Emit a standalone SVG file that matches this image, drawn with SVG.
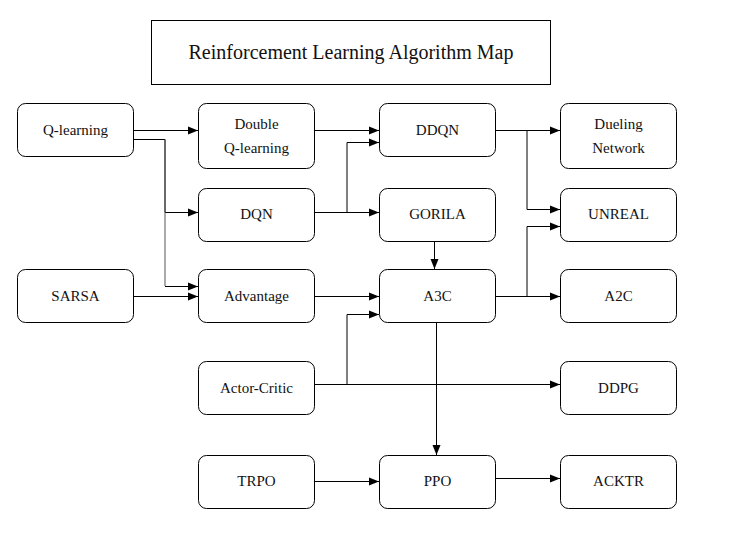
<svg xmlns="http://www.w3.org/2000/svg" width="740" height="549" viewBox="0 0 740 549">
<defs>
<marker id="arr" viewBox="0 0 10 10" refX="10" refY="5" markerWidth="10" markerHeight="10" markerUnits="userSpaceOnUse" orient="auto">
<path d="M0,1 L10,5 L0,9 Z" fill="#000"/>
</marker>
<style>
.n rect{fill:#fff;stroke:#000;stroke-width:1}
.n text{font-family:"Liberation Serif","DejaVu Serif",serif;font-size:15px;fill:#111;text-anchor:middle;dominant-baseline:central}
.t text{font-family:"Liberation Serif","DejaVu Serif",serif;font-size:20px;fill:#111;text-anchor:middle;dominant-baseline:central}
.t rect{fill:#fff;stroke:#000;stroke-width:1}
#edges path{fill:none;stroke:#000;stroke-width:1}
#edges path.a{marker-end:url(#arr)}
#edges path.g{stroke:#555}
</style>
</defs>
<rect width="740" height="549" fill="#fff"/>
<g class="t" id="title"><rect x="151.5" y="20.5" width="399" height="64"/><text x="351" y="52">Reinforcement Learning Algorithm Map</text></g>

<g id="edges">
<path class="a" d="M133,130.5 H198"/>
<path class="a" d="M133,139.5 H165 V212.5 H198"/>
<path class="g" d="M165,139.5 V286"/>
<path class="a" d="M165,286.5 H198"/>
<path class="a" d="M133,296.5 H198"/>
<path class="a" d="M315,130.5 H379"/>
<path class="a" d="M315,212.5 H379"/>
<path class="a" d="M347,212.5 V142.5 H379"/>
<path class="a" d="M495,130.5 H560"/>
<path class="a" d="M527,130.5 V209.5 H560"/>
<path class="a" d="M495,296.5 H560"/>
<path class="a" d="M527,296.5 V226.5 H560"/>
<path class="a" d="M434.5,241 V269"/>
<path class="a" d="M315,296.5 H379"/>
<path class="a" d="M315,384.5 H560"/>
<path class="a" d="M347,384.5 V314.5 H379"/>
<path class="a" d="M436.5,322 V455"/>
<path class="a" d="M314,481.5 H379"/>
<path class="a" d="M495,478.5 H560"/>
</g>

<g class="n" id="q-learning"><rect x="17.5" y="103.5" width="116" height="53" rx="8"/><text x="75.5" y="130">Q-learning</text></g>
<g class="n" id="double-q"><rect x="198.5" y="103.5" width="116" height="65" rx="8"/><text x="256.5" y="124">Double</text><text x="256.5" y="148">Q-learning</text></g>
<g class="n" id="ddqn"><rect x="379.5" y="103.5" width="116" height="53" rx="8"/><text x="437.5" y="130">DDQN</text></g>
<g class="n" id="dueling"><rect x="560.5" y="103.5" width="116" height="65" rx="8"/><text x="618.5" y="124">Dueling</text><text x="618.5" y="148">Network</text></g>
<g class="n" id="dqn"><rect x="198.5" y="188.5" width="116" height="53" rx="8"/><text x="256.5" y="214">DQN</text></g>
<g class="n" id="gorila"><rect x="379.5" y="188.5" width="116" height="53" rx="8"/><text x="437.5" y="214">GORILA</text></g>
<g class="n" id="unreal"><rect x="560.5" y="188.5" width="116" height="53" rx="8"/><text x="618.5" y="214">UNREAL</text></g>
<g class="n" id="sarsa"><rect x="17.5" y="269.5" width="116" height="53" rx="8"/><text x="75.5" y="296">SARSA</text></g>
<g class="n" id="advantage"><rect x="198.5" y="269.5" width="116" height="53" rx="8"/><text x="256.5" y="296">Advantage</text></g>
<g class="n" id="a3c"><rect x="379.5" y="269.5" width="116" height="53" rx="8"/><text x="437.5" y="296">A3C</text></g>
<g class="n" id="a2c"><rect x="560.5" y="269.5" width="116" height="53" rx="8"/><text x="618.5" y="296">A2C</text></g>
<g class="n" id="actor-critic"><rect x="198.5" y="361.5" width="116" height="53" rx="8"/><text x="256.5" y="388">Actor-Critic</text></g>
<g class="n" id="ddpg"><rect x="560.5" y="361.5" width="116" height="53" rx="8"/><text x="618.5" y="388">DDPG</text></g>
<g class="n" id="trpo"><rect x="198.5" y="455.5" width="116" height="53" rx="8"/><text x="256.5" y="481">TRPO</text></g>
<g class="n" id="ppo"><rect x="379.5" y="455.5" width="116" height="53" rx="8"/><text x="437.5" y="481">PPO</text></g>
<g class="n" id="acktr"><rect x="560.5" y="455.5" width="116" height="53" rx="8"/><text x="618.5" y="481">ACKTR</text></g>
</svg>
